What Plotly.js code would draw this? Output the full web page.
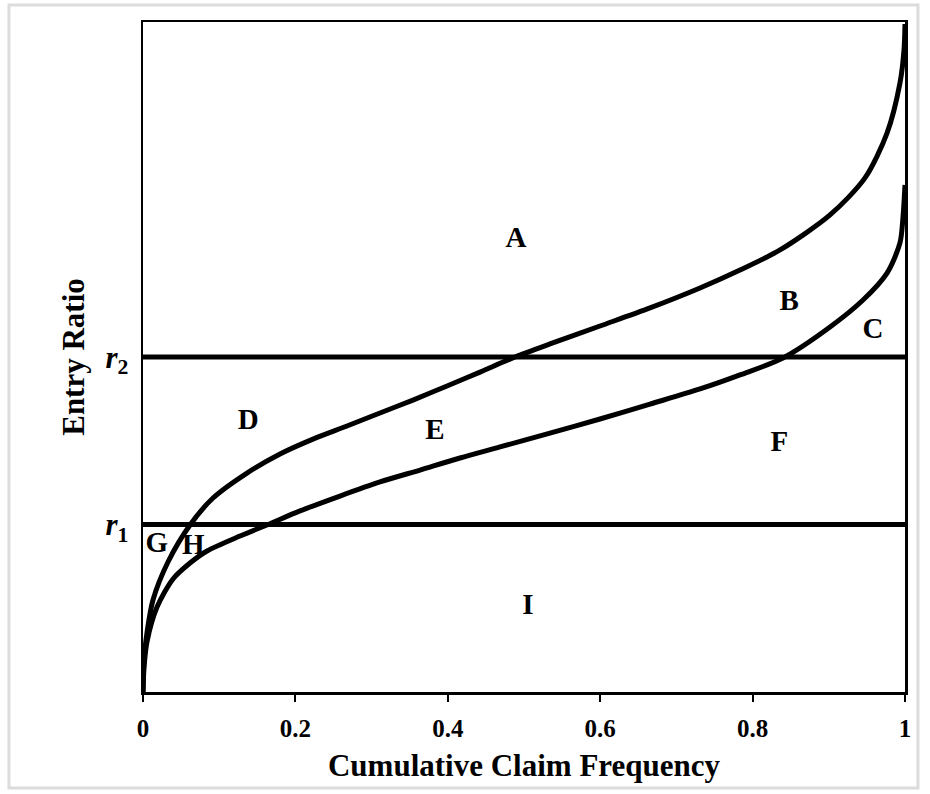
<!DOCTYPE html>
<html>
<head>
<meta charset="utf-8">
<script src="https://cdn.plot.ly/plotly-3.0.1.min.js"></script>
<style>
html,body{margin:0;padding:0;background:#fff;}
#chart{width:930px;height:794px;}
</style>
</head>
<body>
<div id="chart"></div>
<script>
// Upper curve
const upperX = [0, 0.0013, 0.0052, 0.0131, 0.0328, 0.0617, 0.0919, 0.1365, 0.1798, 0.2231, 0.2677, 0.3110, 0.3543, 0.3990, 0.4423, 0.4882, 0.5341, 0.5997, 0.6654, 0.7310, 0.7835, 0.8360, 0.9016, 0.9475, 0.9764, 0.9934, 0.9987, 1.0];
const upperY = [0, 0.191, 0.352, 0.549, 0.776, 0.997, 1.158, 1.307, 1.421, 1.510, 1.588, 1.666, 1.743, 1.827, 1.910, 2.000, 2.078, 2.185, 2.293, 2.412, 2.519, 2.639, 2.848, 3.069, 3.337, 3.636, 3.833, 3.988];
// Lower curve
const lowerX = [0, 0.0013, 0.0052, 0.0184, 0.0394, 0.0617, 0.0840, 0.1273, 0.1627, 0.2060, 0.2585, 0.3110, 0.3635, 0.4160, 0.4685, 0.5341, 0.5997, 0.6654, 0.7310, 0.7835, 0.8399, 0.9016, 0.9449, 0.9764, 0.9934, 0.9974, 1.0];
const lowerY = [0, 0.143, 0.299, 0.507, 0.675, 0.770, 0.842, 0.931, 0.997, 1.081, 1.170, 1.254, 1.325, 1.397, 1.463, 1.546, 1.630, 1.719, 1.809, 1.893, 1.994, 2.179, 2.340, 2.501, 2.681, 2.836, 3.027];
// Thresholds r1, r2
const thresholdValues = [1, 2];
const thresholdLabels = ['<b><i>r</i><sub>1</sub></b>', '<b><i>r</i><sub>2</sub></b>'];
// Region labels
const regionLabels = ['A', 'B', 'C', 'D', 'E', 'F', 'G', 'H', 'I'];
const regionX = [0.4895, 0.848, 0.958, 0.138, 0.383, 0.835, 0.018, 0.066, 0.505];
const regionY = [2.699, 2.322, 2.155, 1.612, 1.552, 1.481, 0.878, 0.866, 0.507];
// X tick labels
const xTickVals = [0, 0.2, 0.4, 0.6, 0.8, 1];
const xTickText = ['0', '0.2', '0.4', '0.6', '0.8', '1'];

const serif = 'Liberation Serif, Times New Roman, serif';
const traces = [];
thresholdValues.forEach(function (v) {
  traces.push({x: [0, 1], y: [v, v], mode: 'lines', line: {color: '#000', width: 5}, hoverinfo: 'skip', showlegend: false});
});
traces.push({x: upperX, y: upperY, mode: 'lines', line: {color: '#000', width: 5, shape: 'spline', smoothing: 0.8}, showlegend: false});
traces.push({x: lowerX, y: lowerY, mode: 'lines', line: {color: '#000', width: 5, shape: 'spline', smoothing: 0.8}, showlegend: false});
traces.push({
  x: regionX, y: regionY, mode: 'text',
  text: regionLabels.map(function (t) { return '<b>' + t + '</b>'; }),
  textposition: 'middle center',
  textfont: {family: serif, size: 29, color: '#000'},
  showlegend: false, hoverinfo: 'skip'
});

const layout = {
  width: 930, height: 794,
  margin: {l: 143, r: 25, t: 22, b: 102},
  paper_bgcolor: '#fff', plot_bgcolor: '#fff',
  showlegend: false,
  xaxis: {
    range: [0, 1], tickvals: xTickVals, ticktext: xTickText,
    showline: true, mirror: true, linecolor: '#000', linewidth: 2.5,
    ticks: 'outside', ticklen: 7, tickwidth: 2, tickcolor: '#000',
    showgrid: false, zeroline: false,
    tickfont: {family: serif, size: 25, color: '#000', weight: 'bold'},
    ticklabelstandoff: 5,
    title: {text: '<b>Cumulative Claim Frequency</b>', font: {family: serif, size: 31, color: '#000'}, standoff: 14}
  },
  yaxis: {
    range: [0, 4], tickvals: thresholdValues, ticktext: thresholdLabels,
    showline: true, mirror: true, linecolor: '#000', linewidth: 2.5,
    ticks: '', showgrid: false, zeroline: false,
    tickfont: {family: serif, size: 31, color: '#000'},
    ticklabelstandoff: 6,
    title: {text: '<b>Entry Ratio</b>', font: {family: serif, size: 31, color: '#000'}, standoff: 12}
  },
  shapes: [{
    type: 'rect', xref: 'paper', yref: 'paper',
    x0: -0.1759, x1: 1.017, y0: -0.1433, y1: 1.0254,
    line: {color: '#dcdcdc', width: 3}, layer: 'below'
  }]
};

Plotly.newPlot('chart', traces, layout, {displayModeBar: false, staticPlot: true});
</script>
</body>
</html>
